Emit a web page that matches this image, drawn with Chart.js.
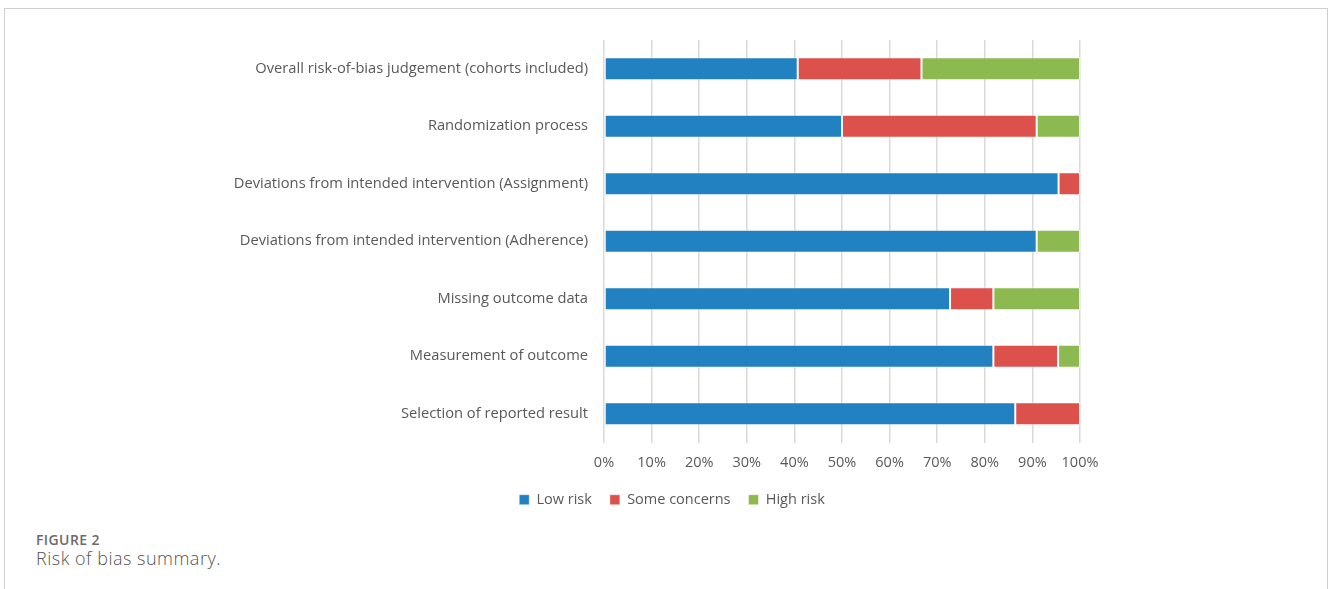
<!DOCTYPE html>
<html>
<head>
<meta charset="utf-8">
<script src="https://cdn.jsdelivr.net/npm/chart.js@4.4.1/dist/chart.umd.min.js"></script>
<style>
  html, body { margin: 0; padding: 0; background: #fff; }
  body { width: 1328px; height: 589px; position: relative; overflow: hidden; font-family: "Open Sans", sans-serif; }
  #frame { position: absolute; left: 4px; top: 8px; width: 1322px; height: 600px; border: 1px solid #cfcfcf; border-bottom: none; }
  #wrap { position: absolute; left: 0; top: 0; width: 1328px; height: 517px; }
  #fig { position: absolute; left: 36px; top: 530px; font-size: 14px; font-weight: 600; color: #6b6b6b; letter-spacing: 0.4px; }
  #cap { position: absolute; left: 36px; top: 546px; font-size: 18px; font-weight: 300; color: #555; letter-spacing: 0.5px; }
</style>
</head>
<body>
<div id="frame"></div>
<div id="wrap"><canvas id="rob"></canvas></div>
<div id="fig">FIGURE 2</div>
<div id="cap">Risk of bias summary.</div>
<script>
// risk-of-bias domains, top to bottom
const domains = [
  'Overall risk-of-bias judgement (cohorts included)',
  'Randomization process',
  'Deviations from intended intervention (Assignment)',
  'Deviations from intended intervention (Adherence)',
  'Missing outcome data',
  'Measurement of outcome',
  'Selection of reported result'
];
// percentages
const lowRisk      = [40.7, 50.0, 95.5, 90.9, 72.7, 81.8, 86.4];
const someConcerns = [26.0, 40.9,  4.5,  0.0,  9.1, 13.6, 13.6];
const highRisk     = [33.3,  9.1,  0.0,  9.1, 18.2,  4.6,  0.0];
const xTicks = [0, 10, 20, 30, 40, 50, 60, 70, 80, 90, 100];

const textCol = '#595959';
const ctx = document.getElementById('rob');

// legend sits under the plot, not under the whole canvas
const shiftLegend = {
  id: 'shiftLegend',
  afterLayout(chart) {
    const lg = chart.legend;
    if (!lg) return;
    const dx = (chart.chartArea.left + chart.chartArea.right) / 2 - (lg.left + lg.right) / 2 - 170;
    lg.left += dx;
    lg.right += dx;
  }
};

new Chart(ctx, {
  type: 'bar',
  data: {
    labels: domains,
    datasets: [
      { label: 'Low risk', data: lowRisk, backgroundColor: '#2281c1' },
      { label: 'Some concerns', data: someConcerns, backgroundColor: '#dc514c' },
      { label: 'High risk', data: highRisk, backgroundColor: '#8cba51' }
    ].map(d => Object.assign(d, {
      borderColor: 'rgba(255,255,255,0.45)', borderWidth: 1, borderSkipped: false,
      categoryPercentage: 1, barPercentage: 0.4
    }))
  },
  options: {
    indexAxis: 'y',
    responsive: true,
    maintainAspectRatio: false,
    animation: false,
    layout: { padding: { top: 40, right: 248, left: 0, bottom: 0 } },
    plugins: {
      tooltip: { enabled: false },
      legend: {
        position: 'bottom',
        labels: {
          color: textCol, boxWidth: 10, boxHeight: 10, padding: 18,
          font: { family: 'Open Sans', size: 14.5 }
        }
      }
    },
    scales: {
      x: {
        stacked: true, min: 0, max: 100,
        afterBuildTicks: s => { s.ticks = xTicks.map(v => ({ value: v })); },
        afterFit: s => { s.height = 32; },
        grid: { color: '#d9d9d9', lineWidth: 1.5, drawTicks: false },
        border: { display: false },
        ticks: { color: textCol, padding: 12, font: { family: 'Open Sans', size: 14.5 }, callback: v => v + '%' }
      },
      y: {
        stacked: true,
        afterFit: s => { s.width = 604; },
        grid: { display: false, drawTicks: false },
        border: { display: false },
        ticks: { color: textCol, padding: 16, font: { family: 'Open Sans', size: 14.7 } }
      }
    }
  },
  plugins: [shiftLegend]
});
</script>
</body>
</html>
